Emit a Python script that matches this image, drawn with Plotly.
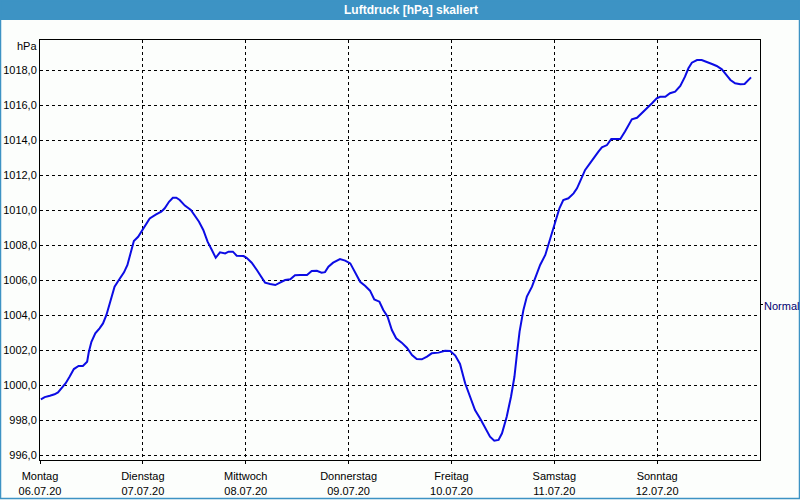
import plotly.graph_objects as go
import pandas as pd

# Hours since Monday 06.07.20 00:00 and air pressure in hPa
hours = [0.2, 1.1, 2.3, 3.4, 4.2, 5.0, 6.0, 6.9, 7.9, 9.0, 10.0, 11.0, 11.4, 12.0, 12.9, 13.9,
         14.7, 15.5, 16.3, 17.4, 18.4, 19.6, 20.4, 21.2, 21.9, 22.9, 24.3, 25.6, 27.1, 28.3,
         29.1, 30.1, 31.0, 31.8, 32.6,
         33.8, 35.2, 36.2, 37.1, 38.1, 39.1, 40.1, 41.0, 42.0, 43.2, 44.0, 45.0, 45.9, 47.5,
         48.2, 49.4, 50.6, 51.7, 52.5, 53.7, 54.9, 56.0, 57.2, 58.4, 59.5, 60.7, 62.3, 63.4,
         64.6, 65.7, 66.5,
         67.3, 68.4, 70.0, 71.2, 72.4, 73.5, 74.7, 75.9, 77.0, 78.0, 79.2, 80.1, 81.1, 82.1,
         83.1, 84.4, 85.6, 86.8, 87.9, 89.1, 90.3, 91.4, 93.0, 94.5, 95.7, 96.9,
         98.0, 99.2, 100.4, 101.5, 102.7, 103.9, 105.0, 106.0, 107.0, 107.8, 108.9, 109.9,
         110.7, 111.3, 111.9, 112.8, 113.6, 114.8, 115.5, 116.7, 117.9, 118.6, 119.4, 120.2,
         121.2, 122.1, 123.3, 124.5, 125.3, 126.0, 127.2, 128.4,
         129.5, 130.3, 131.1, 132.3, 133.3, 134.2, 135.4, 136.5, 137.3, 138.1, 139.3, 140.4,
         141.6, 142.8, 143.9, 144.7, 145.9, 147.0, 148.2, 149.4, 150.5, 151.3, 152.1, 153.3,
         154.4, 155.6, 156.8, 157.9, 159.1, 160.0, 161.1, 162.2, 163.4, 164.4, 165.2, 165.9]

pressure = [999.18, 999.31, 999.39, 999.47, 999.58, 999.81, 1000.10, 1000.47, 1000.91, 1001.09,
            1001.09, 1001.33, 1001.90, 1002.47, 1002.95, 1003.24, 1003.52, 1004.00, 1004.67,
            1005.62, 1006.00, 1006.44, 1006.86, 1007.52, 1008.23, 1008.47, 1009.05, 1009.52,
            1009.75, 1009.90, 1010.10, 1010.47, 1010.70, 1010.70, 1010.57,
            1010.25, 1010.00, 1009.66, 1009.33, 1008.86, 1008.19, 1007.71, 1007.27, 1007.58,
            1007.52, 1007.62, 1007.62, 1007.39, 1007.37, 1007.27, 1006.99, 1006.57, 1006.13,
            1005.85, 1005.77, 1005.71, 1005.85, 1006.00, 1006.04, 1006.27, 1006.29, 1006.29,
            1006.51, 1006.53, 1006.42, 1006.45,
            1006.76, 1006.99, 1007.20, 1007.11, 1006.95, 1006.47, 1005.90, 1005.66, 1005.39,
            1004.89, 1004.76, 1004.29, 1003.90, 1003.14, 1002.67, 1002.42, 1002.13, 1001.71,
            1001.49, 1001.47, 1001.62, 1001.81, 1001.85, 1001.96, 1001.94, 1001.68,
            1001.20, 1000.10, 999.24, 998.57, 998.09, 997.52, 997.05, 996.82, 996.86, 997.24,
            998.19, 999.33, 1000.47, 1001.81, 1003.05, 1004.29, 1005.05, 1005.62, 1006.10,
            1006.86, 1007.43, 1008.00, 1008.67, 1009.43, 1010.10, 1010.57, 1010.67, 1010.95,
            1011.24, 1011.62, 1012.29, 1012.69,
            1013.09, 1013.33, 1013.58, 1013.71, 1014.06, 1014.06, 1014.06, 1014.48, 1014.86,
            1015.18, 1015.27, 1015.52, 1015.81, 1016.10, 1016.38, 1016.47, 1016.47, 1016.67,
            1016.76, 1017.09, 1017.62, 1018.10, 1018.42, 1018.57, 1018.57, 1018.47, 1018.34,
            1018.23, 1018.04, 1017.77, 1017.43, 1017.24, 1017.18, 1017.20, 1017.39, 1017.58]

day_names = ["Montag", "Dienstag", "Mittwoch", "Donnerstag", "Freitag", "Samstag", "Sonntag"]
day_dates = ["2020-07-06", "2020-07-07", "2020-07-08", "2020-07-09", "2020-07-10",
             "2020-07-11", "2020-07-12"]
day_labels = ["06.07.20", "07.07.20", "08.07.20", "09.07.20", "10.07.20", "11.07.20", "12.07.20"]
y_ticks = [996, 998, 1000, 1002, 1004, 1006, 1008, 1010, 1012, 1014, 1016, 1018]

start = pd.Timestamp("2020-07-06 00:00")
times = [start + pd.Timedelta(hours=h) for h in hours]

W, H = 800, 500
L, R, T, B = 40, 40, 40, 40
PW, PH = W - L - R, H - T - B


def px(x):
    return (x - L) / PW


def py(y):
    return (H - B - y) / PH


font = "Liberation Sans"

fig = go.Figure()
fig.add_trace(go.Scatter(x=times, y=pressure, mode="lines",
                         line=dict(color="#0c0ce4", width=2), showlegend=False,
                         hoverinfo="skip"))

fig.update_layout(
    width=W, height=H,
    margin=dict(l=L, r=R, t=T, b=B, autoexpand=False),
    paper_bgcolor="#fcfefc",
    plot_bgcolor="#fcfefc",
    separators=",.",
    font=dict(family=font, size=11, color="#000000"),
    xaxis=dict(
        type="date",
        range=["2020-07-06 00:00", "2020-07-13 00:00"],
        tickvals=day_dates,
        ticktext=[f"{n}<br>{d}" for n, d in zip(day_names, day_labels)],
        showgrid=True, gridcolor="#000000", gridwidth=1, griddash="3px,3px",
        showline=True, linecolor="#000000", linewidth=1, mirror=True,
        ticks="outside", ticklen=3, tickcolor="#000000",
        ticklabelstandoff=3,
        tickfont=dict(family=font, size=11, color="#000000"),
        zeroline=False, fixedrange=True, automargin=False,
    ),
    yaxis=dict(
        range=[995.714, 1019.714],
        tickvals=y_ticks,
        tickformat=".1f",
        showgrid=True, gridcolor="#000000", gridwidth=1, griddash="3px,3px",
        showline=True, linecolor="#000000", linewidth=1, mirror=True,
        ticks="",
        tickfont=dict(family=font, size=11, color="#000000"),
        zeroline=False, fixedrange=True, automargin=False,
    ),
    shapes=[
        dict(type="rect", xref="paper", yref="paper",
             x0=px(0), x1=px(800), y0=py(0), y1=py(20),
             fillcolor="#3d93c4", line=dict(width=0), layer="below"),
        dict(type="rect", xref="paper", yref="paper",
             x0=px(0.5), x1=px(799.5), y0=py(0.5), y1=py(498.5),
             fillcolor="rgba(0,0,0,0)", line=dict(color="#3d93c4", width=1.5)),
        dict(type="line", xref="paper", yref="paper",
             x0=px(760), x1=px(763), y0=py(304.5), y1=py(304.5),
             line=dict(color="#000000", width=1)),
    ],
    annotations=[
        dict(text="<b>Luftdruck [hPa] skaliert</b>", xref="paper", yref="paper",
             x=px(411), y=py(10), xanchor="center", yanchor="middle", showarrow=False,
             font=dict(family=font, size=12, color="#ffffff")),
        dict(text="hPa", xref="paper", yref="paper", x=px(39), y=py(46),
             xanchor="right", yanchor="middle", showarrow=False,
             font=dict(family=font, size=11, color="#000000")),
        dict(text="Normal", xref="paper", yref="paper", x=px(762), y=py(306),
             xanchor="left", yanchor="middle", showarrow=False,
             font=dict(family=font, size=11, color="#000070")),
    ],
)

fig.write_html("out.html")
